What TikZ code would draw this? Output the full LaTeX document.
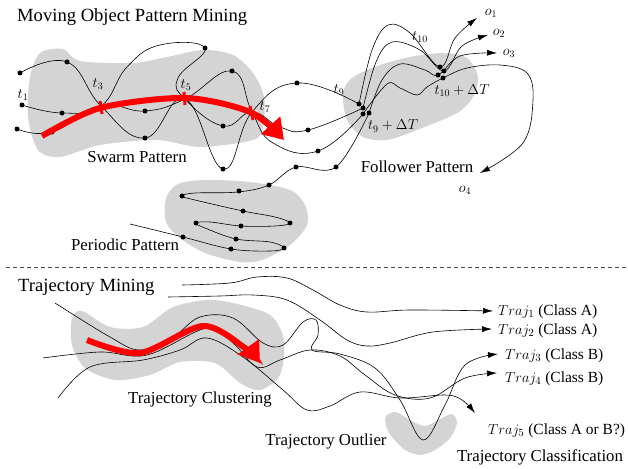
\documentclass[tikz,border=0pt]{standalone}
\usepackage{fontspec}
\setmainfont{Liberation Serif}
\usetikzlibrary{arrows.meta}

\begin{document}
\begin{tikzpicture}[
    x=1pt, y=-1pt,
    >=Stealth,
    region/.style={fill=black!17, draw=none},
    traj/.style={black, line width=0.6pt},
    trajend/.style={traj, -{Latex[length=10pt,width=6pt]}},
    flow/.style={red, line width=6pt, -{Triangle[length=20pt,width=25pt]}},
    crossbar/.style={red, line width=3pt},
    heading/.style={font=\fontsize{18.6}{20}\selectfont, anchor=west, inner sep=0pt},
    patlbl/.style={font=\fontsize{16.8}{18}\selectfont, inner sep=0pt},
    stamp/.style={font=\fontsize{14}{16}\selectfont, inner sep=0pt},
    cls/.style={font=\fontsize{15.5}{17}\selectfont, anchor=west, inner sep=0pt}
  ]

  \useasboundingbox (0,0) rectangle (628,468);

  % regions
  \fill[region] plot[smooth cycle] coordinates {(30,77) (40,53) (63,49) (80,61) (133,63) (167,57) (203,50) (233,55) (253,73) (264,97) (263,127) (253,140) (200,147) (157,140) (100,145) (60,157) (38,150) (28,117)};
  \fill[region] plot[smooth cycle] coordinates {(343,93) (352,78) (377,66) (410,57) (443,53) (467,58) (478,77) (473,97) (457,113) (417,130) (387,140) (363,137) (347,120)};
  \fill[region] plot[smooth cycle] coordinates {(166,198) (178,184) (205,180) (250,182) (290,190) (305,205) (307,225) (290,245) (262,260) (240,262) (205,253) (180,238) (166,222)};
  \fill[region] plot[smooth cycle] coordinates {(72,318) (82,311) (110,327) (143,327) (173,307) (207,300) (233,303) (270,315) (284,340) (280,375) (260,390) (240,383) (215,363) (180,362) (150,375) (115,380) (85,368) (72,345)};
  \fill[region] plot[smooth cycle] coordinates {(386,416) (396,412) (410,420) (425,426) (440,419) (452,414) (457,423) (450,438) (435,450) (420,455) (405,450) (392,437) (386,426)};

  % moving object patterns
  \draw[traj] plot[smooth, tension=0.75] coordinates {(20,73) (67,62) (101,106) (145,138) (185,99) (223,169) (252,112) (297,83) (359,104)};
  \draw[traj] plot[smooth, tension=0.75] coordinates {(22,105) (62,113) (101,106) (127,67) (160,45) (205,48) (178,78) (185,99) (223,126) (252,112) (280,127) (308,130) (363,108)};
  \draw[traj] plot[smooth, tension=0.75] coordinates {(17,129) (52,132) (101,106) (145,111) (185,99) (232,71) (252,112) (273,143) (318,151) (363,114)};
  \draw[traj] plot[smooth, tension=0.6] coordinates {(130,224) (183,237) (231,249) (270,251) (284,248) (270,242) (236,239) (205,228) (196,223) (210,222) (241,226) (275,226) (290,223) (275,217) (243,211) (195,200) (182,196) (195,193) (238,192) (269,185) (296,167) (336,167) (369,113)};

  \draw[trajend] plot[smooth, tension=0.6] coordinates {(359,104) (372,50) (388,25) (410,33) (440,67) (455,38) (477,18)};
  \draw[trajend] plot[smooth, tension=0.6] coordinates {(363,108) (376,62) (392,42) (420,50) (444,71) (462,46) (488,35)};
  \draw[trajend] plot[smooth, tension=0.6] coordinates {(369,113) (382,80) (400,64) (425,70) (438,75) (460,56) (497,53)};
  \draw[trajend] plot[smooth, tension=0.6] coordinates {(363,114) (387,84) (400,88) (417,95) (427,87) (443,78) (467,68) (500,65) (527,73) (533,100) (523,143) (480,173)};

  \foreach \p in {(20,73),(67,62),(22,105),(62,113),(17,129),(52,132),(145,111),(145,138),(205,48),(232,71),(223,126),(223,169),(297,83),(308,130),(318,151),(336,167),(296,167),(269,185),(239,191),(182,196),(243,211),(290,223),(241,226),(196,223),(236,239),(284,248),(231,249),(183,237),(359,104),(363,108),(363,114),(369,113),(440,67),(444,71),(438,75),(443,78)}
    \fill \p circle (2.5pt);

  \draw[flow] plot[smooth] coordinates {(42,136) (100,108) (185,98) (250,112) (284,140)};
  \draw[crossbar] (100,101) -- (102,114);
  \draw[crossbar] (184,92) -- (185,105);
  \draw[crossbar] (250,106) -- (253,120);

  \node[heading] (pattern_title) at (17,17) {Moving Object Pattern Mining};
  \node[patlbl] (swarm_lbl) at (137,157) {Swarm Pattern};
  \node[patlbl] (periodic_lbl) at (125,245) {Periodic Pattern};
  \node[patlbl] (follower_lbl) at (417,167) {Follower Pattern};

  \node[stamp] (t_one) at (23,95) {$t_1$};
  \node[stamp] (t_three) at (98,84) {$t_3$};
  \node[stamp] (t_five) at (186,85) {$t_5$};
  \node[stamp] (t_seven) at (265,107) {$t_7$};
  \node[stamp] (t_nine) at (339,90) {$t_9$};
  \node[stamp] (t_ten) at (420,37) {$t_{10}$};
  \node[stamp] (t_nine_d) at (393,126) {$t_9+\Delta T$};
  \node[stamp] (t_ten_d) at (462,91) {$t_{10}+\Delta T$};
  \node[stamp] (o_one) at (491,13) {$o_1$};
  \node[stamp] (o_two) at (499,33) {$o_2$};
  \node[stamp] (o_three) at (509,53) {$o_3$};
  \node[stamp] (o_four) at (465,190) {$o_4$};

  \draw[black!70, line width=0.6pt, dash pattern=on 4pt off 3pt] (6,267) -- (628,267);

  % trajectory mining
  \draw[trajend] plot[smooth, tension=0.6] coordinates {(182,285) (230,283) (257,277) (287,278) (313,290) (340,305) (367,312) (410,310) (493,311)};
  \draw[trajend] plot[smooth, tension=0.6] coordinates {(168,297) (220,296) (253,295) (287,300) (320,320) (347,340) (367,346) (390,343) (433,332) (492,329)};
  \draw[trajend] plot[smooth, tension=0.6] coordinates {(55,303) (110,337) (140,350) (173,337) (200,317) (233,318) (263,343) (283,345) (303,322) (316,320) (318,335) (312,350) (340,354) (375,368) (400,400) (423,440) (445,405) (465,365) (498,354)};
  \draw[trajend] plot[smooth, tension=0.6] coordinates {(43,358) (100,352) (147,355) (207,328) (233,343) (257,367) (280,360) (310,350) (340,356) (365,375) (395,395) (430,398) (465,378) (497,373)};
  \draw[trajend] plot[smooth, tension=0.6] coordinates {(58,398) (90,367) (143,360) (180,350) (207,338) (243,357) (283,390) (307,410) (330,406) (360,392) (400,398) (445,395) (462,400) (475,413)};

  \draw[flow] plot[smooth] coordinates {(87,340) (140,353) (203,326) (245,348) (260,363)};

  \node[heading] (mining_title) at (18,287) {Trajectory Mining};
  \node[patlbl] (cluster_lbl) at (200,399) {Trajectory Clustering};
  \node[patlbl] (outlier_lbl) at (326,441) {Trajectory Outlier};
  \node[patlbl] (classify_lbl) at (540,457) {Trajectory Classification};

  \node[cls] (traj_one) at (498,312) {$Traj_1$ (Class A)};
  \node[cls] (traj_two) at (498,331) {$Traj_2$ (Class A)};
  \node[cls] (traj_three) at (505,356) {$Traj_3$ (Class B)};
  \node[cls] (traj_four) at (505,379) {$Traj_4$ (Class B)};
  \node[cls] (traj_five) at (488,431) {$Traj_5$ (Class A or B?)};

\end{tikzpicture}
\end{document}
